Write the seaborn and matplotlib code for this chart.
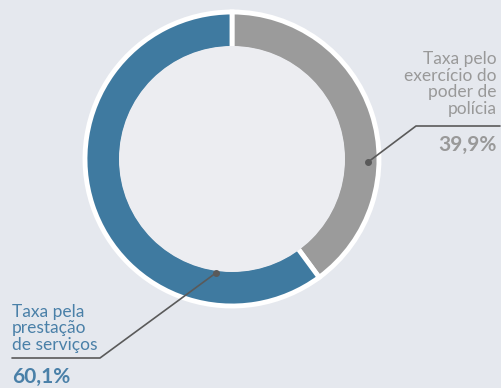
import matplotlib
matplotlib.use("Agg")
import matplotlib.pyplot as plt
import seaborn as sns
import numpy as np

# ---- data ----
categories = ["Taxa pelo exercício do poder de polícia", "Taxa pela prestação de serviços"]
values = [39.9, 60.1]
value_labels = ["39,9%", "60,1%"]
label_lines = [["Taxa pelo", "exercício do", "poder de", "polícia"],
               ["Taxa pela", "prestação", "de serviços"]]
colors = ["#9b9b9b", "#3f7aa0"]
text_colors = ["#999999", "#4a80a8"]

sns.set_style("white")
plt.rcParams["font.family"] = ["Lato", "DejaVu Sans"]

bg = "#e5e8ee"
inner_bg = "#ecedf1"
W, H = 502, 388
fig = plt.figure(figsize=(W / 100, H / 100), dpi=100, facecolor=bg)
ax = fig.add_axes([0, 0, 1, 1])
ax.set_facecolor(bg)

cx, cy = 232, 229
R = 147
r_in = 113
ax.pie(values, colors=colors, startangle=90, counterclock=False,
       center=(cx, cy), radius=R, frame=True,
       wedgeprops=dict(width=R - r_in + 3, edgecolor="white", linewidth=3.5))
ax.set_xlim(0, W)
ax.set_ylim(0, H)
ax.set_aspect("equal")
ax.axis("off")
ax.add_patch(plt.Circle((cx, cy), r_in, color=inner_bg, zorder=5, lw=0))

lc = "#5a5a5a"
def polar(r, ang):
    a = np.deg2rad(ang)
    return cx + r * np.cos(a), cy + r * np.sin(a)

gx, gy = polar(136, -1.3)
ax.plot([gx, 416, 500], [gy, 262, 262], color=lc, lw=1.2, zorder=6)
ax.plot([gx], [gy], "o", color=lc, ms=4, zorder=7)
bx, by = polar(115, -98)
ax.plot([bx, 100, 12], [by, 30, 30], color=lc, lw=1.2, zorder=6)
ax.plot([bx], [by], "o", color=lc, ms=4, zorder=7)

# labels (va='baseline' aligns the last line)
ax.text(497, 274, "\n".join(label_lines[0]), ha="right", va="baseline",
        multialignment="right", fontsize=12.5,
        linespacing=1.05, color=text_colors[0], zorder=8)
ax.text(497, 237, value_labels[0], ha="right", va="baseline", fontsize=15,
        fontweight="bold", color=text_colors[0], zorder=8)

ax.text(12, 38, "\n".join(label_lines[1]), ha="left", va="baseline",
        multialignment="left", fontsize=12.5,
        linespacing=1.05, color=text_colors[1], zorder=8)
ax.text(12, 5, value_labels[1], ha="left", va="baseline", fontsize=15,
        fontweight="bold", color=text_colors[1], zorder=8)

fig.savefig("out.png", dpi=100, facecolor=bg)
